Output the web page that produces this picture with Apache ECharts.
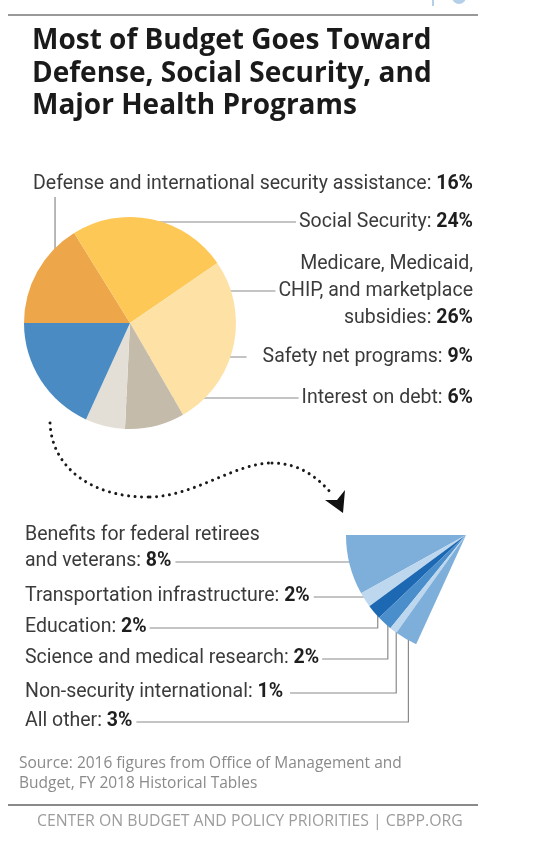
<!DOCTYPE html>
<html><head><meta charset="utf-8">
<script src="https://cdn.jsdelivr.net/npm/echarts@6/dist/echarts.min.js"></script>
<style>html,body{margin:0;padding:0;background:#fff}#chart{width:536px;height:860px}</style>
</head><body><div id="chart"></div>
<script>
// ---------------- DATA ----------------
const mainNames = [
  'Defense and international security assistance',
  'Social Security',
  'Medicare, Medicaid,\nCHIP, and marketplace\nsubsidies',
  'Safety net programs',
  'Interest on debt'
];
const mainValues = [16, 24, 26, 9, 6];
const otherName = 'Other programs';
const subNames = [
  'Benefits for federal retirees\nand veterans',
  'Transportation infrastructure',
  'Education',
  'Science and medical research',
  'Non-security international',
  'All other'
];
const subValues = [8, 2, 2, 2, 1, 3];

const titleText = 'Most of Budget Goes Toward\nDefense, Social Security, and\nMajor Health Programs';
const sourceText = 'Source: 2016 figures from Office of Management and\nBudget, FY 2018 Historical Tables';
const footerText = 'CENTER ON BUDGET AND POLICY PRIORITIES | CBPP.ORG';

// ---------------- STYLE / LAYOUT ----------------
const mainColors = ['#EEA64A', '#FDC856', '#FEE1A5', '#C5BBAB', '#E4DFD6', '#4A8BC4'];
const subColors = ['#7DAFDA', '#BDD7EE', '#1D68B3', '#4A8ECB', '#BDD7EE', '#7DAFDA'];
const MAIN = { cx: 130, cy: 323, r: 106 };
const FAN = { cx: 466, cy: 535, r: 120 };
const LABEL_FONT = 'Roboto';
const LABEL_SIZE = 19.5;
const LINE_COLOR = '#8a8a8a';
const RIGHT_X = 473;
const LEFT_X = 25;

const mainLabelLayout = [
  { y: 184, vertical: true, t: 0.72, rf: 0.95 },
  { y: 222, rf: 0.97, side: 1, gap: 3, line: 0 },
  { y: 291, rf: 0.97, side: 1, gap: 3, line: 1, lh: 27 },
  { y: 357, rf: 0.36, side: 1, gap: 16, line: 0 },
  { y: 398, rf: 0.712, side: -1, gap: 3, line: 0 }
];
const subLabelLayout = [
  { lineY: 562, gap: 4, lh: 26 },
  { lineY: 597, gap: 4 },
  { lineY: 628, gap: 3 },
  { lineY: 659, gap: 3 },
  { lineY: 693, gap: 7 },
  { lineY: 722, gap: 4 }
];

// ---------------- HELPERS ----------------
const sum = a => a.reduce((s, v) => s + v, 0);
const ctx = document.createElement('canvas').getContext('2d');
function textWidth(str, bold) {
  ctx.font = (bold ? 'bold ' : '') + LABEL_SIZE + 'px ' + LABEL_FONT;
  return ctx.measureText(str).width;
}
function lineWidthOf(name, value, i) {
  const lines = name.split('\n');
  if (i === lines.length - 1) return textWidth(lines[i] + ': ') + textWidth(value + '%', true);
  return textWidth(lines[i]);
}
function sliceAngles(values, start, clockwise) {
  const total = sum(values);
  let a = start;
  return values.map(v => {
    const s = a;
    a += (clockwise ? -1 : 1) * v / total * 360;
    return [s, a];
  });
}
function polar(c, rr, deg) {
  const t = deg * Math.PI / 180;
  return [c.cx + rr * Math.cos(t), c.cy - rr * Math.sin(t)];
}

const mainAll = mainValues.concat([sum(subValues)]);
const fanAll = subValues.concat([sum(mainValues)]);
const mainAngles = sliceAngles(mainAll, 180, true);
const fanAngles = sliceAngles(fanAll, 180, false);

function labelFormatter(p) {
  const lines = p.name.split('\n');
  const last = lines.pop();
  return lines.map(l => '{n|' + l + '}').concat(['{n|' + last + ': }{b|' + p.value + '%}']).join('\n');
}
function richFor(lh) {
  return {
    n: { fontFamily: LABEL_FONT, fontSize: LABEL_SIZE, color: '#3b3b3b', lineHeight: lh },
    b: { fontFamily: LABEL_FONT, fontSize: LABEL_SIZE, fontWeight: 'bold', color: '#1e1e1e', lineHeight: lh }
  };
}

const mainData = mainAll.map((v, i) => {
  const d = { value: v, name: i < mainNames.length ? mainNames[i] : otherName, itemStyle: { color: mainColors[i] } };
  if (i >= mainNames.length) { d.label = { show: false }; d.labelLine = { show: false }; }
  else if (mainLabelLayout[i].lh) { d.label = { rich: richFor(mainLabelLayout[i].lh) }; }
  return d;
});
const fanData = fanAll.map((v, i) => {
  if (i >= subNames.length) {
    return { value: v, name: 'rest', itemStyle: { color: 'rgba(0,0,0,0)' }, label: { show: false }, labelLine: { show: false } };
  }
  const d = { value: v, name: subNames[i], itemStyle: { color: subColors[i] } };
  if (subLabelLayout[i].lh) d.label = { rich: richFor(subLabelLayout[i].lh) };
  return d;
});

function mainLayout(p) {
  const i = p.dataIndex;
  const L = mainLabelLayout[i];
  if (!L) return {};
  if (L.vertical) {
    const [s, e] = mainAngles[i];
    const a = polar(MAIN, L.rf * MAIN.r, s + L.t * (e - s));
    const endY = L.y + 13;
    return {
      x: RIGHT_X, y: L.y, align: 'right', verticalAlign: 'middle',
      labelLinePoints: [a, [a[0], (a[1] + endY) / 2], [a[0], endY]]
    };
  }
  const rr = L.rf * MAIN.r;
  const dy = L.y - MAIN.cy;
  const ax = MAIN.cx + L.side * Math.sqrt(Math.max(0, rr * rr - dy * dy));
  const endX = RIGHT_X - lineWidthOf(mainNames[i], mainValues[i], L.line) - L.gap;
  return {
    x: RIGHT_X, y: L.y, align: 'right', verticalAlign: 'middle',
    labelLinePoints: [[ax, L.y], [(ax + endX) / 2, L.y], [endX, L.y]]
  };
}
function fanLayout(p) {
  const i = p.dataIndex;
  const L = subLabelLayout[i];
  if (!L) return {};
  const [s, e] = fanAngles[i];
  const a = polar(FAN, 0.96 * FAN.r, (s + e) / 2);
  const nLines = subNames[i].split('\n').length;
  const lh = L.lh || 26;
  const y = L.lineY - 1 - (nLines - 1) * lh / 2;
  const endX = LEFT_X + lineWidthOf(subNames[i], subValues[i], nLines - 1) + L.gap;
  return {
    x: LEFT_X, y: y, align: 'left', verticalAlign: 'middle',
    labelLinePoints: [a, [a[0], L.lineY], [endX, L.lineY]]
  };
}

const commonSeries = {
  type: 'pie', silent: true, animation: false, avoidLabelOverlap: false,
  emphasis: { disabled: true },
  itemStyle: { borderWidth: 0 },
  label: {
    show: true, position: 'outside', formatter: labelFormatter,
    fontFamily: LABEL_FONT, fontSize: LABEL_SIZE, color: '#3b3b3b',
    rich: richFor(26)
  },
  labelLine: { show: true, length: 5, length2: 5, smooth: false, lineStyle: { color: LINE_COLOR, width: 1.2 } }
};

const dotStyle = { fill: 'none', stroke: '#1a1a1a', lineWidth: 3, lineDash: [0.01, 6.5], lineCap: 'round' };

const chart = echarts.init(document.getElementById('chart'), null, { renderer: 'canvas' });
chart.setOption({
  backgroundColor: '#fff',
  animation: false,
  title: [
    { text: titleText, left: 32, top: 25, padding: 0,
      textStyle: { fontFamily: 'Open Sans', fontWeight: 'bold', fontSize: 28, lineHeight: 32.5, color: '#1a1a1a' } },
    { text: sourceText, left: 19, top: 754, padding: 0,
      textStyle: { fontFamily: 'Open Sans', fontWeight: 'normal', fontSize: 15.5, lineHeight: 19.5, color: '#8a8a8a' } },
    { text: footerText, left: 37, top: 812, padding: 0,
      textStyle: { fontFamily: 'Open Sans', fontWeight: 'normal', fontSize: 15.8, lineHeight: 18, color: '#9c9c9c' } }
  ],
  series: [
    Object.assign({}, commonSeries, {
      center: [MAIN.cx, MAIN.cy], radius: MAIN.r, startAngle: 180, clockwise: true,
      data: mainData, labelLayout: mainLayout
    }),
    Object.assign({}, commonSeries, {
      center: [FAN.cx, FAN.cy], radius: FAN.r, startAngle: 180, clockwise: false,
      data: fanData, labelLayout: fanLayout
    })
  ],
  graphic: [
    { type: 'line', shape: { x1: 8, y1: 15, x2: 478, y2: 15 }, style: { stroke: '#777', lineWidth: 1.5 } },
    { type: 'line', shape: { x1: 8, y1: 805, x2: 478, y2: 805 }, style: { stroke: '#8a8a8a', lineWidth: 2 } },
    { type: 'rect', shape: { x: 432, y: 0, width: 2, height: 6 }, style: { fill: '#b3d0e8' } },
    { type: 'circle', shape: { cx: 459, cy: -3, r: 7 }, style: { fill: '#b3d0e8' } },
    { type: 'bezierCurve', shape: { x1: 50, y1: 423, cpx1: 52, cpy1: 470, cpx2: 95, cpy2: 498, x2: 150, y2: 497 }, style: dotStyle },
    { type: 'bezierCurve', shape: { x1: 150, y1: 497, cpx1: 195, cpy1: 496, cpx2: 235, cpy2: 463, x2: 272, y2: 463 }, style: dotStyle },
    { type: 'bezierCurve', shape: { x1: 272, y1: 463, cpx1: 300, cpy1: 463, cpx2: 318, cpy2: 478, x2: 332, y2: 494 }, style: dotStyle },
    { type: 'polygon', shape: { points: [[325, 500], [337, 500], [345, 490], [343, 513]] }, style: { fill: '#111' } }
  ]
});
</script>
</body></html>
